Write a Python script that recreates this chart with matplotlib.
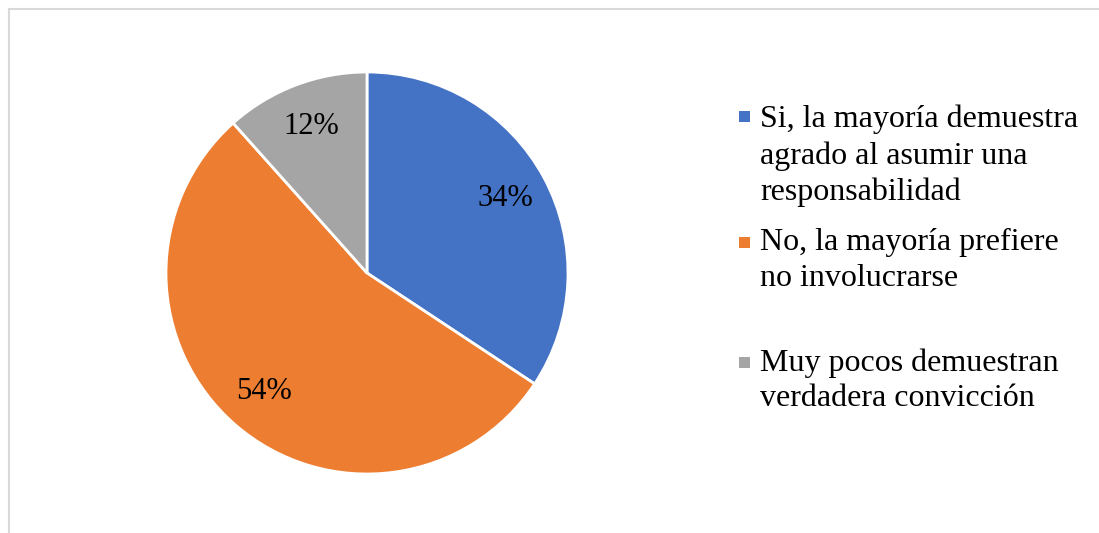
import matplotlib as mpl
import matplotlib.pyplot as plt
from matplotlib.patches import Rectangle

mpl.rcParams["font.family"] = ["Liberation Serif", "DejaVu Serif"]

labels = ["Si, la mayoría demuestra\nagrado al asumir una\nresponsabilidad",
          "No, la mayoría prefiere\nno involucrarse",
          "Muy pocos demuestran\nverdadera convicción"]
values = [34.3, 54.1, 11.6]
colors = ["#4472C4", "#ED7D31", "#A5A5A5"]

W, H = 1099, 533
fig = plt.figure(figsize=(W / 100, H / 100), dpi=100)

# light chart border (only top and left visible)
fig.add_artist(Rectangle((9 / W, -0.1), 1.2, (H - 9) / H + 0.1, transform=fig.transFigure,
                         fill=False, edgecolor="#d9d9d9", linewidth=1.5))

# pie centre (367, 273) px, radius 201 px
cx, cy, r = 367, 273, 201
ax = fig.add_axes([(cx - r) / W, (H - cy - r) / H, 2 * r / W, 2 * r / H])
wedges, texts, autotexts = ax.pie(values, colors=colors, startangle=90, counterclock=False,
                                  autopct="%.0f%%", pctdistance=0.78,
                                  wedgeprops=dict(edgecolor="white", linewidth=2),
                                  textprops=dict(fontsize=22, color="#000000"))
ax.set_xlim(-1, 1)
ax.set_ylim(-1, 1)
ax.axis("off")

# legend, placed by hand to keep Excel's uneven spacing
marker_tops = [111, 237, 357]
text_tops = [107, 233, 355]
shift = [7, 4, 2]
for lab, col, mt, tt, s in zip(labels, colors, marker_tops, text_tops, shift):
    fig.add_artist(Rectangle((739 / W, (H - mt - 11) / H), 11 / W, 11 / H,
                             transform=fig.transFigure, facecolor=col, edgecolor="none"))
    fig.text(760 / W, (H - tt + 9 - s) / H, lab, fontsize=23, va="top", ha="left",
             linespacing=1.31, color="#000000")

fig.savefig("out.png", dpi=100)
